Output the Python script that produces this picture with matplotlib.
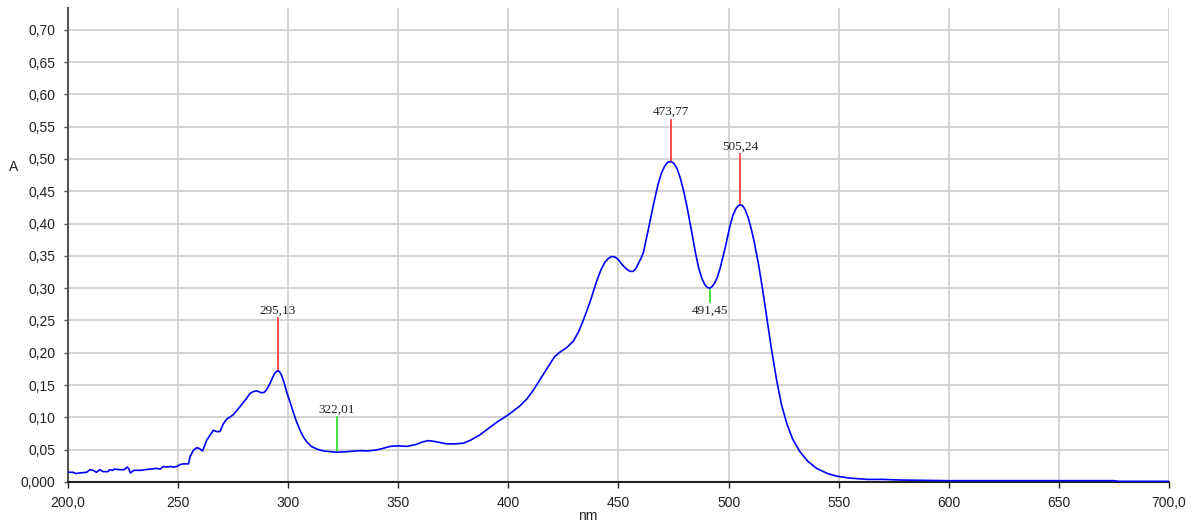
import numpy as np
import matplotlib
matplotlib.use("Agg")
import matplotlib.pyplot as plt
from matplotlib.ticker import FuncFormatter, MultipleLocator

# spectrum (nm, absorbance)
wavelength = [200.0, 202.4, 203.5, 205.4, 208.4, 209.9, 211.4, 212.9, 214.4, 215.9,
              218.1, 218.9, 220.4, 221.0, 223.3, 225.6, 226.8, 227.5, 228.3, 229.9,
              232.8, 235.0, 237.3, 240.3, 241.8, 243.3, 244.8, 246.4, 247.9, 249.4,
              250.9, 252.4, 254.7, 255.4, 256.9, 258.4, 259.6, 261.1, 262.9, 264.4,
              266.0, 267.5, 269.0, 270.5, 272.0, 275.0, 278.2, 280.5, 282.7, 284.2,
              285.7, 287.9, 289.2, 290.2, 291.5, 292.8, 294.0, 295.1, 296.0, 297.0,
              298.2, 299.3, 300.8, 302.3, 303.8, 305.5, 307.0, 308.4, 310.5, 312.9,
              316.0, 319.0, 322.0, 327.0, 332.6, 336.0, 340.2, 343.0, 346.2, 350.0,
              353.8, 358.0, 361.0, 363.6, 366.0, 369.0, 372.0, 376.0, 379.5, 383.0,
              387.1, 391.0, 395.4, 400.0, 405.3, 408.5, 411.3, 415.0, 418.9, 421.0,
              423.4, 426.5, 429.5, 431.8, 434.0, 437.0, 440.1, 442.0, 443.8, 445.4,
              446.9, 448.5, 450.0, 451.5, 453.5, 455.2, 456.7, 457.8, 459.0, 460.2,
              461.3, 463.5, 465.8, 468.0, 469.5, 471.0, 472.4, 473.8, 475.2, 476.6,
              478.0, 479.5, 481.0, 483.2, 485.0, 486.5, 488.0, 489.3, 490.4, 491.4,
              492.4, 493.5, 494.8, 496.1, 498.5, 500.6, 502.0, 503.5, 504.9, 506.3,
              507.6, 509.0, 510.2, 511.5, 513.5, 515.5, 517.3, 519.5, 521.8, 524.0,
              526.4, 529.0, 532.4, 536.0, 540.0, 545.0, 549.1, 555.0, 563.0, 570.0,
              578.0, 600.0, 640.0, 675.0, 677.0, 700.0]
absorbance = [0.015, 0.015, 0.013, 0.014, 0.015, 0.019, 0.018, 0.015, 0.019, 0.016,
              0.016, 0.019, 0.018, 0.020, 0.019, 0.019, 0.023, 0.021, 0.014, 0.018,
              0.018, 0.019, 0.020, 0.021, 0.020, 0.024, 0.023, 0.024, 0.023, 0.024,
              0.027, 0.028, 0.028, 0.039, 0.049, 0.053, 0.052, 0.048, 0.064, 0.072,
              0.080, 0.078, 0.078, 0.090, 0.097, 0.104, 0.117, 0.127, 0.137, 0.140,
              0.141, 0.138, 0.139, 0.143, 0.151, 0.161, 0.169, 0.172, 0.171, 0.165,
              0.153, 0.139, 0.124, 0.108, 0.093, 0.079, 0.069, 0.062, 0.055, 0.051,
              0.048, 0.047, 0.046, 0.047, 0.0485, 0.048, 0.0496, 0.052, 0.055, 0.056,
              0.055, 0.058, 0.062, 0.064, 0.063, 0.061, 0.059, 0.059, 0.060, 0.065,
              0.073, 0.083, 0.094, 0.104, 0.118, 0.129, 0.142, 0.162, 0.183, 0.194,
              0.201, 0.208, 0.218, 0.232, 0.250, 0.278, 0.311, 0.328, 0.340, 0.346,
              0.349, 0.348, 0.344, 0.337, 0.330, 0.326, 0.326, 0.330, 0.338, 0.346,
              0.355, 0.390, 0.428, 0.461, 0.478, 0.489, 0.495, 0.496, 0.493, 0.485,
              0.471, 0.452, 0.428, 0.388, 0.354, 0.330, 0.314, 0.305, 0.301, 0.300,
              0.302, 0.307, 0.316, 0.330, 0.363, 0.396, 0.413, 0.424, 0.429, 0.428,
              0.421, 0.408, 0.393, 0.374, 0.339, 0.297, 0.256, 0.205, 0.158, 0.120,
              0.091, 0.067, 0.047, 0.032, 0.021, 0.013, 0.009, 0.006, 0.004, 0.004,
              0.003, 0.002, 0.002, 0.002, 0.001, 0.001]

# picked peaks / valleys
pick_nm = [295.13, 322.01, 473.77, 491.45, 505.24]
pick_abs = [0.172, 0.046, 0.496, 0.300, 0.429]
pick_tip = [0.254, 0.100, 0.561, 0.278, 0.507]
pick_kind = ['max', 'min', 'max', 'min', 'max']

plt.rcParams['font.family'] = ['Liberation Sans', 'DejaVu Sans']

fig = plt.figure(figsize=(11.94, 5.24), dpi=100)
ax = fig.add_axes([0.057, 0.0802, 0.922, 0.905])

ax.plot(wavelength, absorbance, color='#0000ff', lw=1.2, zorder=3)

for nm, a, tip, kind in zip(pick_nm, pick_abs, pick_tip, pick_kind):
    col = '#ff3030' if kind == 'max' else '#22dd22'
    ax.plot([nm, nm], [a, tip], color=col, lw=1.2, zorder=2)
    label = f"{nm:.2f}".replace('.', ',')
    if tip > a:
        ax.text(nm, tip + 0.002, label, ha='center', va='bottom', fontsize=9.5,
                family='Liberation Serif', color='#222222')
    else:
        ax.text(nm, tip - 0.004, label, ha='center', va='top', fontsize=9.5,
                family='Liberation Serif', color='#222222')

ax.set_xlim(200, 700)
ax.set_ylim(0, 0.734)
ax.xaxis.set_major_locator(MultipleLocator(50))
ax.yaxis.set_major_locator(MultipleLocator(0.05))


def fmt_x(v, pos):
    if v in (200, 700):
        return f"{v:.1f}".replace('.', ',')
    return f"{v:.0f}"


def fmt_y(v, pos):
    if abs(v) < 1e-9:
        return "0,000"
    return f"{v:.2f}".replace('.', ',')


ax.xaxis.set_major_formatter(FuncFormatter(fmt_x))
ax.yaxis.set_major_formatter(FuncFormatter(fmt_y))

ax.grid(True, color='#d0d0d0', lw=1.3)
ax.set_axisbelow(True)
for s in ['top', 'right']:
    ax.spines[s].set_visible(False)
ax.spines['left'].set_color('#555555')
ax.spines['left'].set_linewidth(1.5)
ax.spines['bottom'].set_color('#222222')
ax.spines['bottom'].set_linewidth(1.5)
ax.tick_params(axis='y', length=3, width=1, pad=6, labelsize=10,
               colors='#555555', labelcolor='#222222')
ax.tick_params(axis='x', length=4, width=1, pad=6, labelsize=10,
               colors='#222222', labelcolor='#222222')

fig.text(14 / 1194, 1 - 167 / 524, 'A', fontsize=10, ha='center', va='center', color='#222222')
fig.text(588 / 1194, 1 - 516 / 524, 'nm', fontsize=10, ha='center', va='center', color='#222222')

fig.savefig('out.png', dpi=100)
